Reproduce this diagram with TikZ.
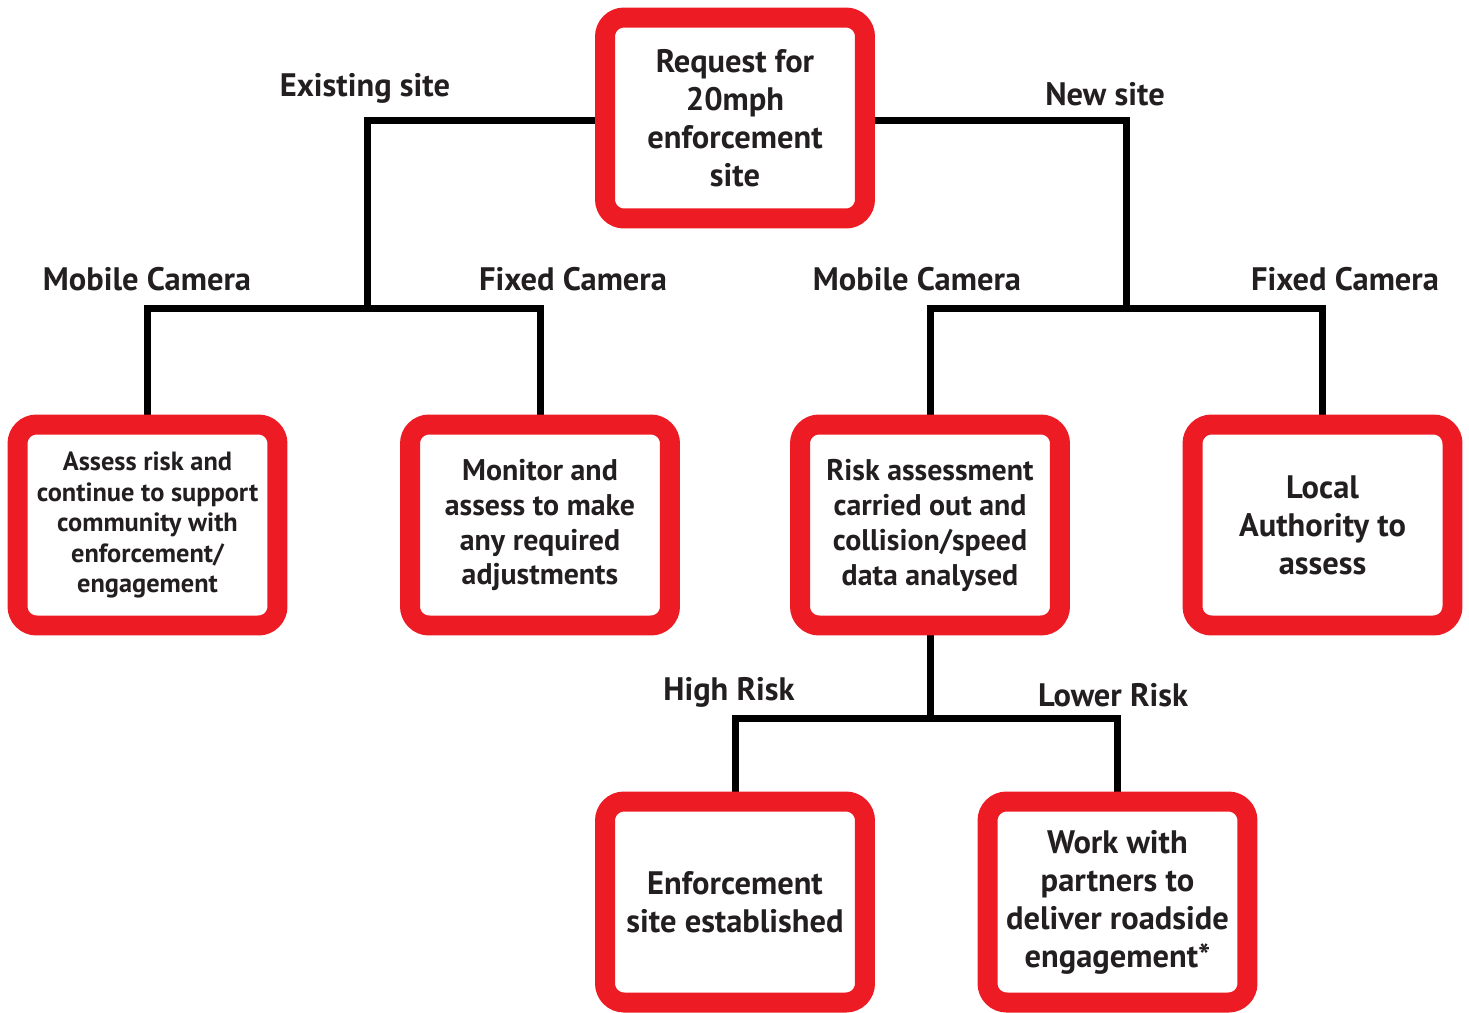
\documentclass[tikz,border=0pt]{standalone}
\usepackage{fontspec}
\setmainfont{PT Sans}
\usepackage{tikz}
\usetikzlibrary{positioning, calc, backgrounds}
\definecolor{boxred}{RGB}{237, 28, 36}
\definecolor{inkgrey}{RGB}{35, 31, 32}

\begin{document}
\begin{tikzpicture}[x=0.02cm, y=-0.02cm,
    flowbox/.style={draw=boxred, line width=0.4cm, fill=white, rounded corners=0.38cm,
      minimum width=5.2cm, minimum height=4.02cm, align=center, inner sep=0pt,
      text=inkgrey, font=\fontsize{18.5}{21.6}\selectfont\bfseries},
    branch/.style={text=inkgrey, font=\fontsize{18.5}{22}\selectfont\bfseries},
    link/.style={draw=black, line width=0.14cm}]
  \useasboundingbox (0,0) rectangle (1469,1012);

  % Boxes
  \node[flowbox] (request) at (735, 118) {Request for\\20mph\\enforcement\\site};

  \node[flowbox, font=\fontsize{15}{17.4}\selectfont\bfseries] (assess) at (147.5, 525)
    {Assess risk and\\continue to support\\community with\\enforcement/\\engagement};
  \node[flowbox, font=\fontsize{17}{19.9}\selectfont\bfseries] (monitor) at (540, 525)
    {Monitor and\\assess to make\\any required\\adjustments};
  \node[flowbox, font=\fontsize{17}{19.9}\selectfont\bfseries] (riskass) at (930, 525)
    {Risk assessment\\carried out and\\collision/speed\\data analysed};
  \node[flowbox] (local) at (1322.5, 525) {Local\\Authority to\\assess};

  \node[flowbox] (enforce) at (735, 902) {Enforcement\\site established};
  \node[flowbox] (partners) at (1117.5, 902)
    {Work with\\partners to\\deliver roadside\\engagement*};

  % Connectors
  \coordinate (existing) at (367, 308);
  \coordinate (newsite) at (1126, 308);
  \coordinate (riskfork) at (930, 718);
  \begin{scope}[on background layer]
    \draw[link] ($(request.west)+(0,2)$) -| (existing);
    \draw[link] (assess.north) |- (existing) -| (monitor.north);
    \draw[link] ($(request.east)+(0,2)$) -| (newsite);
    \draw[link] (riskass.north) |- (newsite) -| (local.north);
    \draw[link] (riskass.south) -- (riskfork);
    \draw[link] (enforce.north) |- (riskfork) -| (partners.north);
  \end{scope}

  % Branch labels
  \node[branch] (lblexist) at (365, 88) {Existing site};
  \node[branch] (lblnew) at (1105, 94) {New site};
  \node[branch] (lblmob1) at (147, 279) {Mobile Camera};
  \node[branch] (lblfix1) at (573, 279) {Fixed Camera};
  \node[branch] (lblmob2) at (917, 279) {Mobile Camera};
  \node[branch] (lblfix2) at (1345, 279) {Fixed Camera};
  \node[branch] (lblhigh) at (729, 692) {High Risk};
  \node[branch] (lbllow) at (1113, 695) {Lower Risk};
\end{tikzpicture}
\end{document}
